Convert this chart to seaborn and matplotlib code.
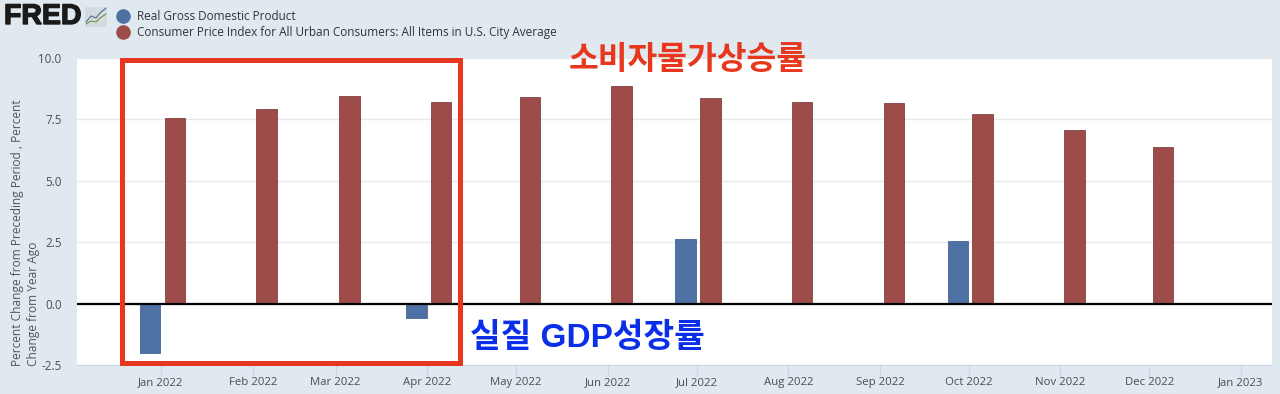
import matplotlib

matplotlib.use("Agg")
import matplotlib.dates as mdates
import matplotlib.patheffects as pe
import matplotlib.pyplot as plt
import pandas as pd
import seaborn as sns
from matplotlib.lines import Line2D
from matplotlib.patches import Rectangle

months = ["2022-01", "2022-02", "2022-03", "2022-04", "2022-05", "2022-06",
          "2022-07", "2022-08", "2022-09", "2022-10", "2022-11", "2022-12"]
cpi_values = [7.55, 7.92, 8.47, 8.20, 8.43, 8.88, 8.37, 8.20, 8.16, 7.71, 7.06, 6.39]
gdp_months = ["2022-01", "2022-04", "2022-07", "2022-10"]
gdp_values = [-2.00, -0.60, 2.65, 2.56]
tick_months = months + ["2023-01"]
y_ticks = [-2.5, 0.0, 2.5, 5.0, 7.5, 10.0]

gdp_name = "Real Gross Domestic Product"
cpi_name = "Consumer Price Index for All Urban Consumers: All Items in U.S. City Average"
y_label = "Percent Change from Preceding Period , Percent\nChange from Year Ago"

BG = "#e1e9f0"
GDP_COLOR = "#4e71a4"
CPI_COLOR = "#9e4c4a"
W, H = 1280, 394


def to_num(values):
    # bars sit half a day after the tick, the same way FRED draws them
    return mdates.date2num(pd.to_datetime(values)) + 0.5


def fig_xy(x, y):
    return x / W, 1 - y / H


sns.set_style("white")
plt.rcParams["font.family"] = ["Open Sans", "Noto Sans CJK KR", "DejaVu Sans"]

df = pd.concat([
    pd.DataFrame({"date": to_num(gdp_months), "value": gdp_values, "series": gdp_name}),
    pd.DataFrame({"date": to_num(months), "value": cpi_values, "series": cpi_name}),
])

fig = plt.figure(figsize=(W / 100, H / 100), dpi=100, facecolor=BG)
ax = fig.add_axes([77 / W, 1 - 365 / H, (1272 - 77) / W, (365 - 58) / H])

sns.barplot(
    data=df, x="date", y="value", hue="series", hue_order=[gdp_name, cpi_name],
    palette={gdp_name: GDP_COLOR, cpi_name: CPI_COLOR}, native_scale=True,
    width=0.6, gap=0.18, saturation=1, ax=ax, legend=False, zorder=3,
    edgecolor="#6e2f2e", linewidth=0.5,
)
for bar in ax.patches:
    if bar.get_facecolor()[2] > bar.get_facecolor()[0]:
        bar.set_edgecolor("#34568a")

start = mdates.date2num(pd.Timestamp("2022-01-01"))
ax.set_xlim(start - 28.4, start + 375.5)
ax.set_ylim(-2.5, 10)
ax.set_xlabel("")
ax.set_ylabel("")
ax.set_yticks(y_ticks, [f"{v:.1f}" for v in y_ticks])
ax.set_xticks(mdates.date2num(pd.to_datetime(tick_months)),
              [pd.Timestamp(m).strftime("%b %Y") for m in tick_months])
ax.set_facecolor("white")
ax.grid(axis="y", color="#e9e9e9", lw=1, zorder=0)
ax.tick_params(axis="x", length=8, width=1, color="#ccd6eb", labelsize=8.2, labelcolor="#4d4d4d", pad=0.7, bottom=True)
ax.tick_params(axis="y", length=0, labelsize=8.4, labelcolor="#4d4d4d", pad=11)
for side in ["top", "left", "right"]:
    ax.spines[side].set_visible(False)
ax.spines["bottom"].set_color("#ccd6eb")
ax.axhline(0, color="black", lw=1.6, zorder=4)

fig.text(*fig_xy(11.5, 366), y_label, rotation=90, ha="left", va="bottom", multialignment="left", fontsize=8.6,
         color="#555555", linespacing=1.3)

# legend
handles = [
    Line2D([], [], marker="o", ls="", ms=9.5, color=GDP_COLOR, label=gdp_name),
    Line2D([], [], marker="o", ls="", ms=9.5, color=CPI_COLOR, label=cpi_name),
]
fig.legend(handles=handles, loc="upper left", bbox_to_anchor=fig_xy(115, 9), frameon=False,
           fontsize=8.5, labelcolor="#333333", handletextpad=0.55, labelspacing=0.22,
           borderpad=0.1, borderaxespad=0, handlelength=1.2)

# FRED logo
fig.text(*fig_xy(4, 17), "FRED", fontsize=20.5, fontweight="bold", color="#1a1a1a", family="Liberation Sans",
         ha="left", va="center", path_effects=[pe.withStroke(linewidth=1.0, foreground="#1a1a1a")])
fig.add_artist(Rectangle(fig_xy(85, 27), 22 / W, 20 / H, transform=fig.transFigure,
                         facecolor="#d5dade", edgecolor="none"))
fig.add_artist(Line2D([86 / W, 91 / W, 96 / W, 100 / W, 106 / W],
                      [1 - 22 / H, 1 - 16 / H, 1 - 18 / H, 1 - 13 / H, 1 - 8 / H],
                      transform=fig.transFigure, color="#4a6f96", lw=0.8))
fig.add_artist(Line2D([86 / W, 91 / W, 96 / W, 100 / W, 106 / W],
                      [1 - 24 / H, 1 - 21 / H, 1 - 22 / H, 1 - 18 / H, 1 - 14 / H],
                      transform=fig.transFigure, color="#6d9440", lw=0.8))

# hand drawn annotations
fig.add_artist(Rectangle(fig_xy(121.5, 363), (460 - 121.5) / W, (363 - 59.5) / H, transform=fig.transFigure,
                         facecolor="none", edgecolor="#e8371f", lw=3.6, zorder=10))
fig.text(*fig_xy(688, 60), "소비자물가상승률", fontsize=23.3, fontweight="bold", color="#e8371f",
         family="Noto Sans CJK KR", ha="center", va="center", zorder=11)
fig.text(*fig_xy(587.5, 338), "실질 GDP성장률", fontsize=24, fontweight="bold", color="#0b2fe8",
         family=["Liberation Sans", "Noto Sans CJK KR"], ha="center", va="center", zorder=11)

fig.savefig("out.png", dpi=100, facecolor=BG)
plt.close(fig)
